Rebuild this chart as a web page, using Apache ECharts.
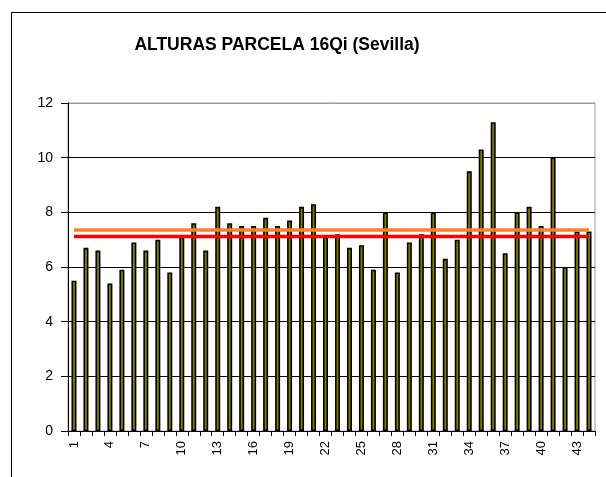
<!DOCTYPE html>
<html>
<head>
<meta charset="utf-8">
<script src="https://cdn.jsdelivr.net/npm/echarts@6/dist/echarts.min.js"></script>
<style>html,body{margin:0;padding:0;background:#fff}#c{width:606px;height:477px}</style>
</head>
<body>
<div id="c"></div>
<script>
const titleText = 'ALTURAS PARCELA 16Qi (Sevilla)';
const categories = ['1','2','3','4','5','6','7','8','9','10','11','12','13','14','15','16','17','18','19','20','21','22','23','24','25','26','27','28','29','30','31','32','33','34','35','36','37','38','39','40','41','42','43','44'];
const alturas = [5.5,6.7,6.6,5.4,5.9,6.9,6.6,7.0,5.8,7.1,
                 7.6,6.6,8.2,7.6,7.5,7.5,7.8,7.5,7.7,8.2,
                 8.3,7.1,7.2,6.7,6.8,5.9,8.0,5.8,6.9,7.2,
                 8.0,6.3,7.0,9.5,10.3,11.3,6.5,8.0,8.2,7.5,
                 10.0,6.0,7.3,7.3];
const mediaValue = 7.35;   // orange line
const refValue = 7.12;     // red line
const yTicks = [0,2,4,6,8,10,12];

const chart = echarts.init(document.getElementById('c'), null, {renderer:'canvas'});
const first = categories[0], last = categories[categories.length-1];
chart.setOption({
  animation: false,
  backgroundColor: '#fff',
  title: {
    text: titleText, left: 272, top: 31, textAlign: 'center',
    textStyle: {fontFamily: 'Liberation Sans, Arial', fontWeight: 'bold', fontSize: 17.5, color: '#000'}
  },
  graphic: [{
    type: 'rect', shape: {x: 11.5, y: 12.5, width: 800, height: 700},
    style: {fill: 'none', stroke: '#000', lineWidth: 1}, silent: true
  }],
  grid: {left: 68, top: 103, right: 11, bottom: 46, show: true, borderColor: '#999', borderWidth: 1, backgroundColor: 'transparent'},
  xAxis: {
    type: 'category', data: categories, boundaryGap: true,
    axisLine: {lineStyle: {color: '#000', width: 1}},
    axisTick: {show: true, interval: 0, alignWithLabel: false, length: 5, lineStyle: {color: '#000'}},
    axisLabel: {interval: 2, rotate: 90, margin: 10, fontFamily: 'Liberation Sans, Arial', fontSize: 13, color: '#000'},
    splitLine: {show: false}
  },
  yAxis: {
    type: 'value', min: yTicks[0], max: yTicks[yTicks.length-1], interval: 2,
    axisLine: {show: true, lineStyle: {color: '#000', width: 1}},
    axisTick: {show: true, length: 7, lineStyle: {color: '#000'}},
    axisLabel: {margin: 15, fontFamily: 'Liberation Sans, Arial', fontSize: 14, color: '#000'},
    splitLine: {show: true, lineStyle: {color: ['#000','#000','#000','#000','#000','#000','#999'], width: 1}}
  },
  series: [
    {
      type: 'bar', data: alturas, barWidth: 5,
      itemStyle: {color: '#808000', borderColor: '#000', borderWidth: 1.6},
      z: 2
    },
    {
      type: 'line', data: [[first, mediaValue],[last, mediaValue]],
      symbol: 'none', lineStyle: {color: '#FF7F27', width: 3.5}, z: 3
    },
    {
      type: 'line', data: [[first, refValue],[last, refValue]],
      symbol: 'none', lineStyle: {color: '#FF0000', width: 3.5}, z: 3
    }
  ]
});
</script>
</body>
</html>
